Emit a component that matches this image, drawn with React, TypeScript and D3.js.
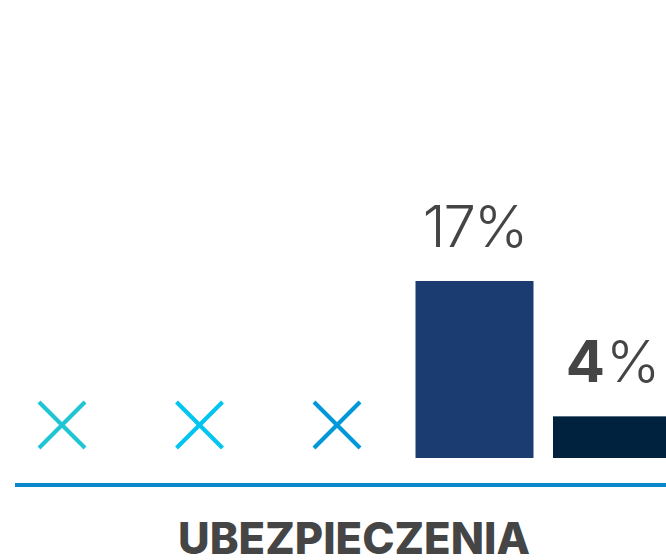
import React from "react";
import * as d3 from "d3";

const categories = ["s1", "s2", "s3", "s4", "s5"];
const values: (number | null)[] = [null, null, null, 17, 4];
const colors = ["#1ec6d3", "#00c5f1", "#0098d8", "#1b3c71", "#00223f"];
const boldValue = [false, false, false, false, true];
const groupLabel = "UBEZPIECZENIA";

const W = 666;
const H = 560;

export default function App() {
  const x = d3.scalePoint<string>().domain(categories).range([62, 612]);
  const y = d3.scaleLinear().domain([0, 17]).range([458, 281]);
  const barW = 118;
  const xHalf = 23;
  const axisY = 485;
  const fontFam = "Inter, 'Open Sans', sans-serif";

  return (
    <svg
      width={W}
      height={H}
      style={{ position: "absolute", left: 0, top: 0, display: "block" }}
    >
      <rect x={0} y={0} width={W} height={H} fill="#ffffff" />
      {categories.map((c, i) => {
        const cx = x(c)!;
        const v = values[i];
        if (v == null) {
          const cy = 425;
          return (
            <g key={c} stroke={colors[i]} strokeWidth={4}>
              <line x1={cx - xHalf} y1={cy - xHalf} x2={cx + xHalf} y2={cy + xHalf} />
              <line x1={cx - xHalf} y1={cy + xHalf} x2={cx + xHalf} y2={cy - xHalf} />
            </g>
          );
        }
        return (
          <g key={c}>
            <rect
              x={cx - barW / 2}
              y={y(v)}
              width={barW}
              height={y(0) - y(v)}
              fill={colors[i]}
            />
            <text
              x={cx}
              y={y(v) - 34}
              textAnchor="middle"
              fontFamily={fontFam}
              fontSize={58}
              letterSpacing={-2}
              fill="#454545"
            >
              <tspan fontWeight={boldValue[i] ? 700 : 300}>{v}</tspan>
              <tspan fontWeight={300} dx={boldValue[i] ? 3 : 0}>%</tspan>
            </text>
          </g>
        );
      })}
      <line x1={15} x2={W} y1={axisY} y2={axisY} stroke="#0a87cd" strokeWidth={4} />
      <text
        x={354}
        y={554}
        textAnchor="middle"
        fontFamily={fontFam}
        fontWeight={800}
        fontSize={44}
        fill="#454545"
        textLength={352}
        lengthAdjust="spacingAndGlyphs"
      >
        {groupLabel}
      </text>
    </svg>
  );
}
